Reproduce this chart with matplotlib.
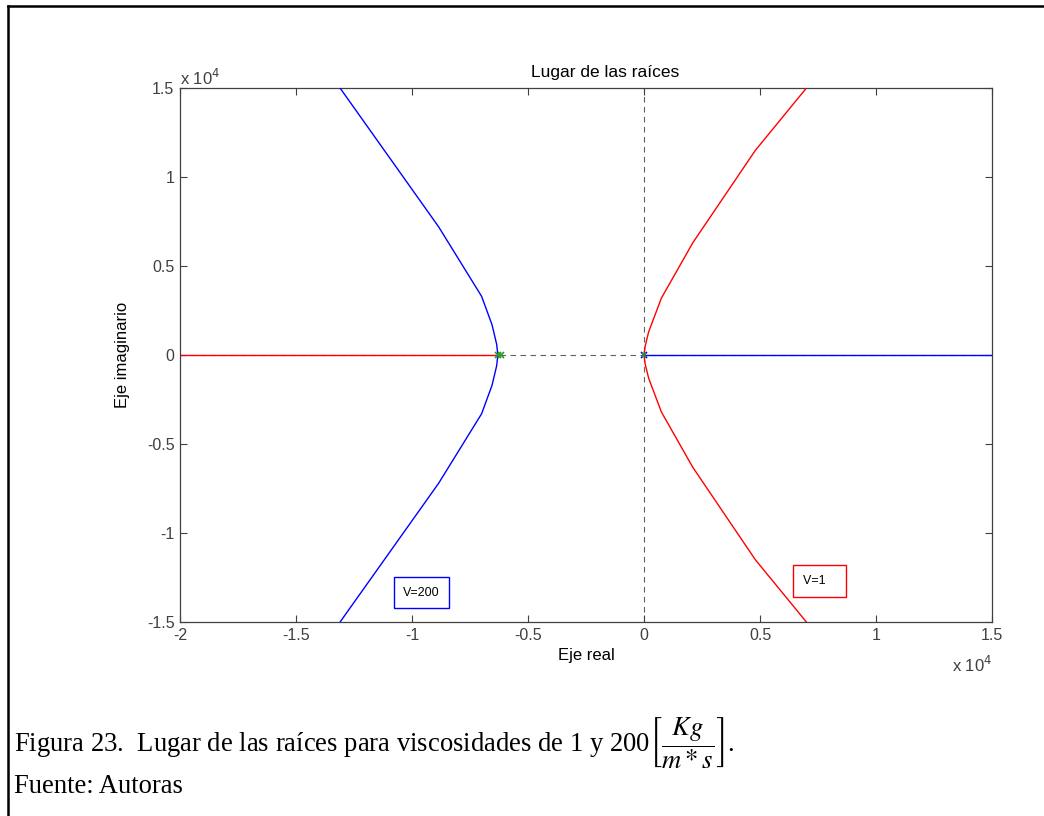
import numpy as np
import matplotlib
matplotlib.use('Agg')
import matplotlib.pyplot as plt
from matplotlib.lines import Line2D
from matplotlib.ticker import FuncFormatter

plt.rcParams['font.family'] = ['Liberation Sans', 'DejaVu Sans']
plt.rcParams['mathtext.fontset'] = 'stix'

# root locus branches (real, imag), upper half; lower half is mirrored
v1_re = [0, 50, 200, 750, 2100, 4800, 7000]
v1_im = [0, 500, 1300, 3200, 6300, 11500, 15000]
v200_re = [-6300, -6350, -6550, -7000, -8850, -13100]
v200_im = [0, 600, 1700, 3300, 7200, 15000]

# poles of each system
v1_poles = [0]
v200_poles = [-6300, -6150]

xticks = [-2e4, -1.5e4, -1e4, -0.5e4, 0, 0.5e4, 1e4, 1.5e4]
yticks = [-1.5e4, -1e4, -0.5e4, 0, 0.5e4, 1e4, 1.5e4]

GRAY = '#404040'

fig = plt.figure(figsize=(10.44, 8.16), dpi=100)
ax = fig.add_axes([0.1724, 0.2377, 0.7778, 0.6544])

# dashed axis lines
ax.axhline(0, color='#606060', ls=(0, (5, 4)), lw=0.8, zorder=1)
ax.axvline(0, color='#606060', ls=(0, (5, 4)), lw=0.8, zorder=1)

# real-axis segments
ax.plot([-2e4, v200_poles[0]], [0, 0], color='red', lw=1.0, zorder=2)
ax.plot([0, 1.5e4], [0, 0], color='blue', lw=1.0, zorder=2)

def branch(re, im, color):
    re = np.array(re, dtype=float)
    im = np.array(im, dtype=float)
    x = np.concatenate([re[::-1], re[1:]])
    y = np.concatenate([im[::-1], -im[1:]])
    ax.plot(x, y, color=color, lw=1.0, zorder=3)

branch(v1_re, v1_im, 'red')
branch(v200_re, v200_im, 'blue')

ax.plot(v200_poles, [0] * len(v200_poles), ls='none', marker='x', ms=5,
        mec='#2a9a2a', mew=1.2, zorder=4)
ax.plot(v1_poles, [0], ls='none', marker='x', ms=5, mec='blue', mew=1.2, zorder=4)
ax.plot(v1_poles, [0], ls='none', marker='x', ms=3.5, mec='#2a9a2a', mew=1.2, zorder=5)

ax.set_xlim(-2e4, 1.5e4)
ax.set_ylim(-1.5e4, 1.5e4)
ax.set_xticks(xticks)
ax.set_yticks(yticks)
fmt = FuncFormatter(lambda v, p: ('%g' % (v / 1e4)))
ax.xaxis.set_major_formatter(fmt)
ax.yaxis.set_major_formatter(fmt)
ax.tick_params(direction='in', top=True, right=True, length=5, width=0.8,
               colors=GRAY, labelsize=11.5, labelcolor=GRAY, pad=4)
for s in ax.spines.values():
    s.set_color(GRAY)
    s.set_linewidth(0.9)

ax.set_title('Lugar de las raíces', fontsize=12.5, color='black', pad=8, x=0.523)
ax.set_xlabel('Eje real', fontsize=12, labelpad=4)
ax.set_ylabel('Eje imaginario', fontsize=12, labelpad=12)

ax.text(-2e4, 1.5e4, r'x 10$^{4}$', fontsize=12,
        color=GRAY, ha='left', va='bottom', math_fontfamily='dejavusans')
ax.text(1.5e4, -1.5e4 - 1850, r'x 10$^{4}$', fontsize=12, color=GRAY,
        ha='right', va='top', math_fontfamily='dejavusans')

ax.text(-0.96e4, -1.335e4, 'V=200', fontsize=9, ha='center', va='center',
        bbox=dict(boxstyle='square,pad=0.75', fc='white', ec='blue', lw=1.0))
ax.text(0.755e4, -1.27e4, 'V=1   ', fontsize=9, ha='center', va='center',
        bbox=dict(boxstyle='square,pad=0.8', fc='white', ec='red', lw=1.0))

# caption
fig.text(0.013, 1 - 752 / 816,
         r'Figura 23.  Lugar de las raíces para viscosidades de 1 y 200$\left[\dfrac{Kg}{m*s}\right]$.',
         fontsize=19.2, family='Liberation Serif', va='baseline')
fig.text(0.013, 1 - 793 / 816, 'Fuente: Autoras', fontsize=19.2,
         family='Liberation Serif', va='baseline')

# page frame
fig.add_artist(Line2D([0.008, 0.008], [0, 0.993], color='black', lw=1.8,
                      transform=fig.transFigure))
fig.add_artist(Line2D([0.008, 1.0], [0.993, 0.993], color='black', lw=1.8,
                      transform=fig.transFigure))

fig.savefig('out.png', dpi=100, facecolor='white')
